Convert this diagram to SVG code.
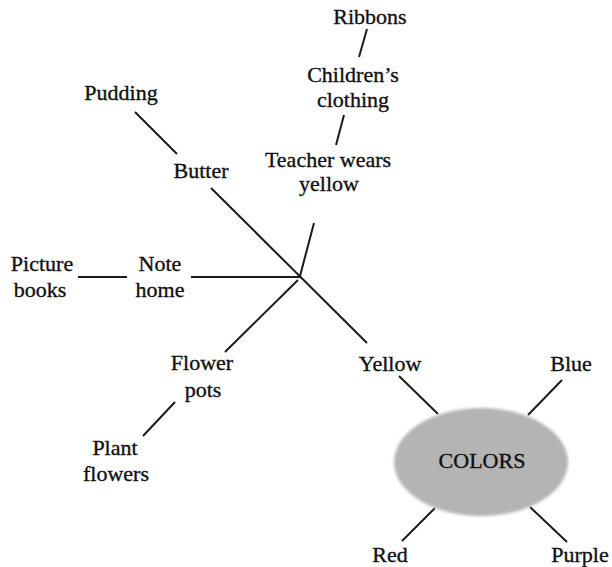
<svg xmlns="http://www.w3.org/2000/svg" width="612" height="567" viewBox="0 0 612 567">
<defs>
<style>
text{font-family:"Liberation Serif","Times New Roman",serif;font-size:22px;fill:#111;text-anchor:middle;stroke:#111;stroke-width:0.35px}
.c line{stroke:#1a1a1a;stroke-width:2;stroke-linecap:butt}
.thin{stroke-width:1.6}
</style>
<filter id="soft" x="-10%" y="-10%" width="120%" height="120%"><feGaussianBlur stdDeviation="1.5"/></filter>
</defs>
<rect width="612" height="567" fill="#fff"/>
<g class="c" id="connectors">
<line x1="367" y1="29" x2="359" y2="57"/>
<line x1="344" y1="115" x2="336" y2="145"/>
<line x1="314" y1="223" x2="300" y2="276"/>
<line x1="135" y1="112" x2="177" y2="154"/>
<line x1="211" y1="188" x2="367" y2="343"/>
<line class="thin" x1="78" y1="277" x2="127" y2="277"/>
<line class="thin" x1="191" y1="277" x2="300" y2="277"/>
<line x1="298" y1="280" x2="225" y2="352"/>
<line x1="175" y1="402" x2="143" y2="436"/>
<line x1="399" y1="376" x2="438" y2="414"/>
<line x1="562" y1="380" x2="528" y2="415"/>
<line x1="435" y1="508" x2="402" y2="541"/>
<line x1="530" y1="507" x2="567" y2="542"/>
</g>
<g id="colors">
<ellipse cx="481" cy="462" rx="87" ry="54" fill="#b4b4b4" filter="url(#soft)"/>
<text x="482" y="468">COLORS</text>
</g>
<g id="ribbons"><text x="370" y="24">Ribbons</text></g>
<g id="childrens-clothing"><text x="353" y="82">Children’s</text><text x="353" y="107">clothing</text></g>
<g id="teacher-wears-yellow"><text x="328" y="167">Teacher wears</text><text x="329" y="191">yellow</text></g>
<g id="pudding"><text x="121" y="100">Pudding</text></g>
<g id="butter"><text x="201" y="178">Butter</text></g>
<g id="picture-books"><text x="42" y="271">Picture</text><text x="40" y="297">books</text></g>
<g id="note-home"><text x="160" y="271">Note</text><text x="160" y="297">home</text></g>
<g id="flower-pots"><text x="202" y="370">Flower</text><text x="203" y="397">pots</text></g>
<g id="plant-flowers"><text x="115" y="455">Plant</text><text x="116" y="481">flowers</text></g>
<g id="yellow"><text x="390" y="371">Yellow</text></g>
<g id="blue"><text x="571" y="371">Blue</text></g>
<g id="red"><text x="390" y="562">Red</text></g>
<g id="purple"><text x="580" y="562">Purple</text></g>
</svg>
